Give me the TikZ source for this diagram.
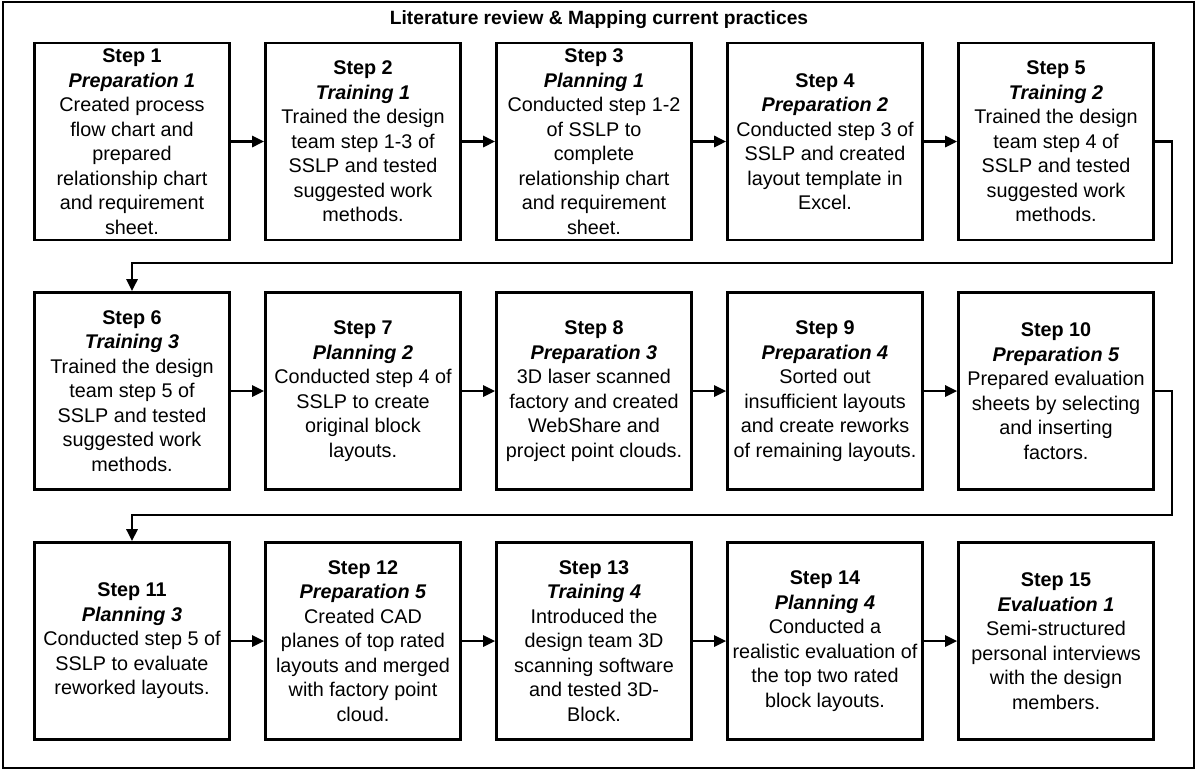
\documentclass[tikz,border=0pt]{standalone}
\usepackage{fontspec}
\setmainfont{Liberation Sans}
\usetikzlibrary{arrows.meta}

% heading, phase and description of one step
\newcommand{\boxtext}[3]{\textbf{#1}\\\textbf{\textit{#2}}\\#3}

\begin{document}
\begin{tikzpicture}[x=1pt,y=-1pt,
  stepbox/.style={draw, line width=2.6pt, minimum width=195pt, minimum height=197pt,
    inner sep=0pt, align=center, font=\fontsize{19.8}{24.5}\selectfont},
  flow/.style={line width=2.6pt, -{Triangle[length=12pt,width=11pt]}},
  frame/.style={line width=1.8pt},
]
\useasboundingbox (0,0) rectangle (1197,771);
\draw[frame] (3,2) rectangle (1194,768);
\node[font=\bfseries\fontsize{19.2}{22}\selectfont] (title) at (599,20)
  {Literature review \& Mapping current practices};

% row 1
\node[stepbox] (s1) at (132,141.5) {\boxtext{Step 1}{Preparation 1}{Created process\\flow chart and\\prepared\\relationship chart\\and requirement\\sheet.}};
\node[stepbox] (s2) at (363,141.5) {\boxtext{Step 2}{Training 1}{Trained the design\\team step 1-3 of\\SSLP and tested\\suggested work\\methods.}};
\node[stepbox] (s3) at (594,141.5) {\boxtext{Step 3}{Planning 1}{Conducted step 1-2\\of SSLP to\\complete\\relationship chart\\and requirement\\sheet.}};
\node[stepbox] (s4) at (825,141.5) {\boxtext{Step 4}{Preparation 2}{Conducted step 3 of\\SSLP and created\\layout template in\\Excel.}};
\node[stepbox] (s5) at (1056,141.5) {\boxtext{Step 5}{Training 2}{Trained the design\\team step 4 of\\SSLP and tested\\suggested work\\methods.}};

% row 2
\node[stepbox] (s6) at (132,391) {\boxtext{Step 6}{Training 3}{Trained the design\\team step 5 of\\SSLP and tested\\suggested work\\methods.}};
\node[stepbox] (s7) at (363,391) {\boxtext{Step 7}{Planning 2}{Conducted step 4 of\\SSLP to create\\original block\\layouts.}};
\node[stepbox] (s8) at (594,391) {\boxtext{Step 8}{Preparation 3}{3D laser scanned\\factory and created\\WebShare and\\project point clouds.}};
\node[stepbox] (s9) at (825,391) {\boxtext{Step 9}{Preparation 4}{Sorted out\\insufficient layouts\\and create reworks\\of remaining layouts.}};
\node[stepbox] (s10) at (1056,391) {\boxtext{Step 10}{Preparation 5}{Prepared evaluation\\sheets by selecting\\and inserting\\factors.}};

% row 3
\node[stepbox] (s11) at (132,641) {\boxtext{Step 11}{Planning 3}{Conducted step 5 of\\SSLP to evaluate\\reworked layouts.}};
\node[stepbox] (s12) at (363,641) {\boxtext{Step 12}{Preparation 5}{Created CAD\\planes of top rated\\layouts and merged\\with factory point\\cloud.}};
\node[stepbox] (s13) at (594,641) {\boxtext{Step 13}{Training 4}{Introduced the\\design team 3D\\scanning software\\and tested 3D-\\Block.}};
\node[stepbox] (s14) at (825,641) {\boxtext{Step 14}{Planning 4}{Conducted a\\realistic evaluation of\\the top two rated\\block layouts.}};
\node[stepbox] (s15) at (1056,641) {\boxtext{Step 15}{Evaluation 1}{Semi-structured\\personal interviews\\with the design\\members.}};

% straight links inside each row
\foreach \a/\b in {s1/s2,s2/s3,s3/s4,s4/s5,s6/s7,s7/s8,s8/s9,s9/s10,s11/s12,s12/s13,s13/s14,s14/s15}
  \draw[flow] (\a.east) -- (\b.west);

% wrap-around links between rows
\coordinate (r1) at (1172,263);
\coordinate (r2) at (1172,515);
\draw[flow] (s5.east) -| (r1) -| (s6.north);
\draw[flow] (s10.east) -| (r2) -| (s11.north);
\end{tikzpicture}
\end{document}
